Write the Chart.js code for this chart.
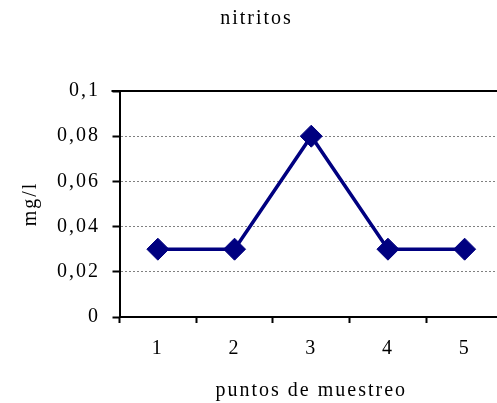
<!DOCTYPE html>
<html><head><meta charset="utf-8">
<script src="https://cdn.jsdelivr.net/npm/chart.js@4/dist/chart.umd.min.js"></script>
<style>html,body{margin:0;padding:0;overflow:hidden;background:#fff;width:497px;height:403px}canvas{display:block}</style>
</head><body>
<canvas id="c" width="503" height="403"></canvas>
<script>
const categories = ['1','2','3','4','5'];
const nitritos = [0.03, 0.03, 0.08, 0.03, 0.03];
const yTicks = [0, 0.02, 0.04, 0.06, 0.08, 0.1];
const FONT = "'Liberation Serif','Times New Roman',serif";
const SPACING = '2px';
const spacing = {
  id:'spacing',
  beforeInit(chart){ chart.ctx.letterSpacing = SPACING; },
  beforeLayout(chart){ chart.ctx.letterSpacing = SPACING; },
  beforeDraw(chart){ chart.ctx.letterSpacing = SPACING; }
};
const topLine = {
  id:'topLine',
  afterDatasetsDraw(chart){
    const {ctx, chartArea:a} = chart;
    ctx.save(); ctx.strokeStyle='#000'; ctx.lineWidth=2;
    ctx.beginPath(); ctx.moveTo(a.left-8, a.top); ctx.lineTo(a.right, a.top); ctx.stroke(); ctx.restore();
  }
};
const cv = document.getElementById('c');
cv.getContext('2d').letterSpacing = SPACING;
new Chart(cv, {
  type:'line',
  data:{labels:categories, datasets:[{data:nitritos, borderColor:'#000080', backgroundColor:'#000080', borderWidth:3.5,
    pointStyle:'rectRot', pointRadius:11, pointBorderWidth:1, pointBackgroundColor:'#000080', pointBorderColor:'#000080', tension:0}]},
  options:{
    responsive:false, animation:false,
    layout:{autoPadding:false, padding:{left:10, right:0, top:0, bottom:0}},
    plugins:{legend:{display:false}, tooltip:{enabled:false},
      title:{display:true, text:'nitritos', color:'#000', font:{family:FONT, size:20, weight:'normal'}, padding:{top:7, bottom:60}}},
    scales:{
      x:{offset:true,
        grid:{offset:true, drawOnChartArea:false, drawTicks:true, tickLength:6, tickColor:'#000', tickWidth:2},
        border:{color:'#000', width:2},
        ticks:{color:'#000', font:{family:FONT, size:20}, padding:14},
        title:{display:true, text:'puntos de muestreo', color:'#000', font:{family:FONT, size:20}, padding:{top:4,bottom:0}}},
      y:{min:0, max:0.1,
        afterBuildTicks(s){ s.ticks = yTicks.map(v=>({value:v})); },
        grid:{color:(c)=> (c.tick && c.tick.value>=0.1) ? 'rgba(0,0,0,0)' : '#808080', lineWidth:1, drawTicks:true, tickLength:7, tickColor:'#000', tickWidth:2},
        border:{color:'#000', width:2, dash:[2,2]},
        ticks:{color:'#000', font:{family:FONT, size:20}, padding:12.5, callback:(v)=> String(+v.toFixed(2)).replace('.',',')},
        title:{display:true, text:'mg/l', color:'#000', font:{family:FONT, size:20}, padding:{top:9,bottom:1.5}}}
    }
  },
  plugins:[spacing, topLine]
});
</script>
</body></html>
